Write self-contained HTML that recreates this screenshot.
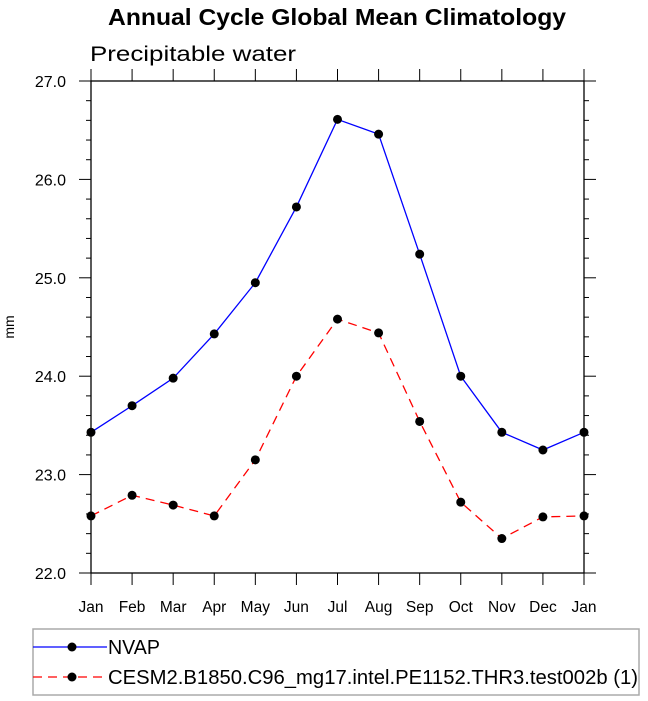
<!DOCTYPE html>
<html><head><meta charset="utf-8"><style>
body{margin:0;background:#fff;font-family:"Liberation Sans",sans-serif}
svg{display:block}
</style></head><body>
<svg width="648" height="701" viewBox="0 0 648 701">
<text x="108" y="25" font-size="23" font-weight="bold" textLength="458" lengthAdjust="spacingAndGlyphs">Annual Cycle Global Mean Climatology</text>
<text x="90" y="61" font-size="21" textLength="206" lengthAdjust="spacingAndGlyphs">Precipitable water</text>
<text transform="translate(14,327) rotate(-90)" text-anchor="middle" font-size="14">mm</text>
<g id="axes"></g>
<g id="series"></g>
<rect x="33" y="629" width="606" height="66" fill="none" stroke="#aaa" stroke-width="1.5"/>
<g>
<line x1="33" y1="647" x2="107" y2="647" stroke="#0000ff" stroke-width="1.3"/>
<circle cx="72" cy="647" r="4.5" fill="#000"/>
<text x="108" y="654" font-size="20" textLength="52" lengthAdjust="spacingAndGlyphs">NVAP</text>
</g>
<g>
<line x1="33" y1="677" x2="107" y2="677" stroke="#ff0000" stroke-width="1.3" stroke-dasharray="9,6"/>
<circle cx="72" cy="677" r="4.5" fill="#000"/>
<text x="108" y="684" font-size="20" textLength="530" lengthAdjust="spacingAndGlyphs">CESM2.B1850.C96_mg17.intel.PE1152.THR3.test002b (1)</text>
</g>
</svg>
<script>
const months=["Jan","Feb","Mar","Apr","May","Jun","Jul","Aug","Sep","Oct","Nov","Dec","Jan"];
const nvap=[23.43,23.70,23.98,24.43,24.95,25.72,26.61,26.46,25.24,24.00,23.43,23.25,23.43];
const cesm=[22.58,22.79,22.69,22.58,23.15,24.00,24.58,24.44,23.54,22.72,22.35,22.57,22.58];
const yTicks=["22.0","23.0","24.0","25.0","26.0","27.0"];
const L=91,R=584,T=81,B=573,yMin=22,yMax=27;
const NS="http://www.w3.org/2000/svg";
function xs(i){return L+(R-L)*i/(months.length-1);}
function ys(v){return B-(v-yMin)/(yMax-yMin)*(B-T);}
function mk(tag,attrs,parent){const e=document.createElementNS(NS,tag);for(const k in attrs)e.setAttribute(k,attrs[k]);parent.appendChild(e);return e;}
const ax=document.getElementById('axes');
const frame=mk('rect',{x:L,y:T,width:R-L,height:B-T,fill:'none',stroke:'#000','stroke-width':1.3},ax);


for(let i=0;i<months.length;i++){
 const x=xs(i);
 mk('line',{x1:x,y1:B,x2:x,y2:B+12,stroke:'#000','stroke-width':1},ax);
 mk('line',{x1:x,y1:T,x2:x,y2:T-12,stroke:'#000','stroke-width':1},ax);
 const t=mk('text',{x:x,y:B+39,'text-anchor':'middle','font-size':15.5},ax);
 t.textContent=months[i];
 
 
}
for(let v=yMin;v<=yMax+1e-6;v+=0.2){
 const y=ys(v);const major=Math.abs(v-Math.round(v))<1e-6;const len=major?12:5;
 mk('line',{x1:L,y1:y,x2:L-len,y2:y,stroke:'#000','stroke-width':1},ax);
 mk('line',{x1:R,y1:y,x2:R+len,y2:y,stroke:'#000','stroke-width':1},ax);
}
yTicks.forEach(s=>{
 const t=mk('text',{x:66,y:ys(parseFloat(s))+6,'text-anchor':'end','font-size':16},ax);
 t.textContent=s;
 
 
});
const sg=document.getElementById('series');
function series(data,color,dash,name){
 const g=mk('g',{},sg);
 
 
 const pts=data.map((v,i)=>xs(i)+','+ys(v)).join(' ');
 const a={points:pts,fill:'none',stroke:color,'stroke-width':1.3};
 if(dash)a['stroke-dasharray']=dash;
 mk('polyline',a,g);
 data.forEach((v,i)=>{const c=mk('circle',{cx:xs(i),cy:ys(v),r:4.5,fill:'#000'},g);
  
  });
}
series(nvap,'#0000ff',null,'series-nvap');
series(cesm,'#ff0000','9,6','series-cesm');
</script>
</body></html>
